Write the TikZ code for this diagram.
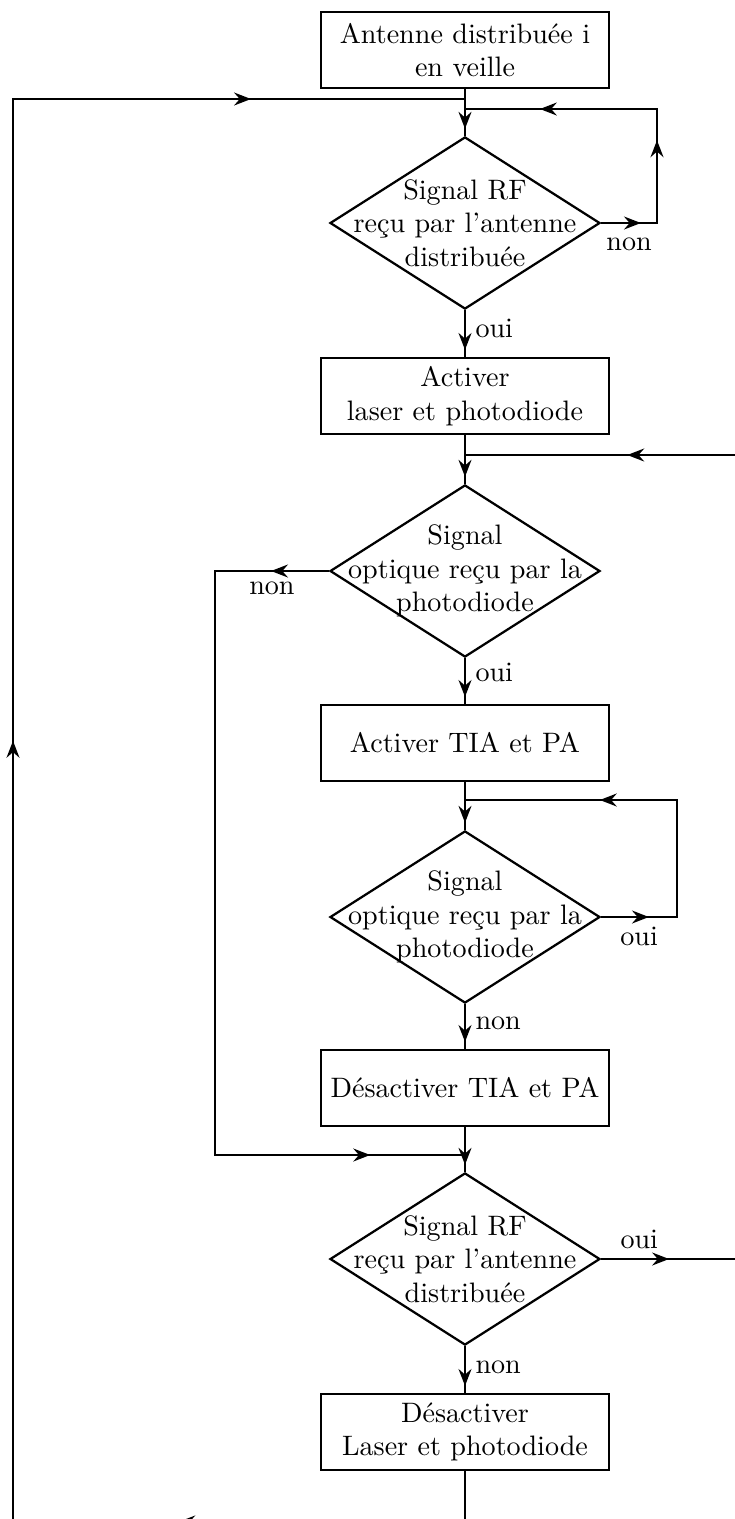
\documentclass[tikz,border=0pt]{standalone}
\usepackage{tikz}
\usetikzlibrary{shapes.geometric,arrows.meta,decorations.markings}

\tikzset{
  >={Stealth[length=6pt,width=4.6pt,inset=2pt]},
  flow/.style={thick},
  box/.style={draw, thick, minimum width=102.4pt, minimum height=27pt, inner sep=2pt, align=center},
  test/.style={draw, thick, diamond, minimum width=96pt, minimum height=61.2pt, inner sep=0pt},
  arr/.style={decoration={markings, mark=at position #1 with {\arrow{>}}}},
  fleches/.style={arr/.list={#1}, postaction={decorate}},
  fin/.style={fleches={-2.5pt}},
}

\begin{document}
\begin{tikzpicture}[x=0.0125cm, y=-0.0125cm]
  \useasboundingbox (0,0) rectangle (735,1519);
  \clip (0,0) rectangle (735,1519);

  % blocs
  \node[box] (veille) at (465,50) {Antenne distribuée i\\en veille};
  \node[test, label={[align=center]center:Signal RF\\reçu par l'antenne\\distribuée}] (rf1) at (465,223) {};
  \node[box] (activ) at (465,396) {Activer\\laser et photodiode};
  \node[test, label={[align=center]center:Signal\\optique reçu par la\\photodiode}] (opt1) at (465,571) {};
  \node[box] (tia) at (465,743) {Activer TIA et PA};
  \node[test, label={[align=center]center:Signal\\optique reçu par la\\photodiode}] (opt2) at (465,917) {};
  \node[box] (desac) at (465,1088) {Désactiver TIA et PA};
  \node[test, label={[align=center]center:Signal RF\\reçu par l'antenne\\distribuée}] (rf2) at (465,1259) {};
  \node[box] (stop) at (465,1432) {Désactiver\\Laser et photodiode};

  % points de jonction
  \coordinate (j0) at (465,99);
  \coordinate (j1) at (465,109);
  \coordinate (j2) at (465,455);
  \coordinate (j3) at (465,800);
  \coordinate (j4) at (465,1155);
  \coordinate (b1) at (465,1522);
  \coordinate (b2) at (13,1522);
  \coordinate (t1) at (13,99);
  \coordinate (n1a) at (657,223);
  \coordinate (n1b) at (657,109);
  \coordinate (n2a) at (215,571);
  \coordinate (n2b) at (215,1155);
  \coordinate (o1a) at (677,917);
  \coordinate (o1b) at (677,800);
  \coordinate (o2a) at (760,1259);
  \coordinate (o2b) at (760,455);

  % liaisons
  \draw[flow, fin] (veille) -- (rf1);
  \draw[flow, fin] (rf1) -- node[right, pos=0.4] {oui} (activ);
  \draw[flow, fin] (activ) -- (opt1);
  \draw[flow, fin] (opt1) -- node[right, pos=0.3] {oui} (tia);
  \draw[flow, fin] (tia) -- (opt2);
  \draw[flow, fin] (opt2) -- node[right, pos=0.42] {non} (desac);
  \draw[flow, fin] (desac) -- (rf2);
  \draw[flow, fin] (rf2) -- node[right, pos=0.46] {non} (stop);

  % boucles
  \draw[flow, fleches={0.110,0.383,0.793}] (rf1) -- node[below=1.5pt] {non} (n1a) -- (n1b) -- (j1);
  \draw[flow, fleches={0.061,0.900}] (opt1) -- node[below] {non} (n2a) -- (n2b) -- (j4);
  \draw[flow, fleches={0.118,0.667}] (opt2) -- node[below] {oui} (o1a) -- (o1b) -- (j3);
  \draw[flow, fleches={0.054,0.871}] (rf2) -- node[above, pos=0.24] {oui} (o2a) -- (o2b) -- (j2);
  \draw[flow, fleches={0.142,0.540,0.910}] (stop) -- (b1) -- (b2) -- (t1) -- (j0);
\end{tikzpicture}
\end{document}
